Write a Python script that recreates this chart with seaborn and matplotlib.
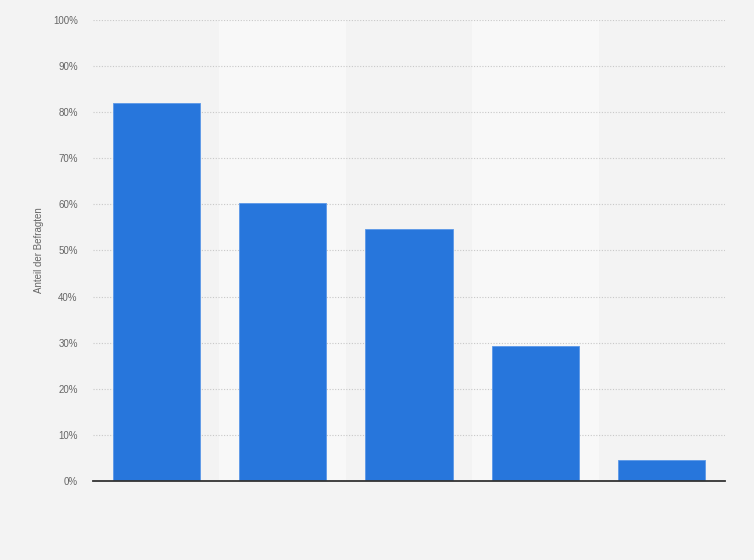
import matplotlib
matplotlib.use("Agg")
import matplotlib.pyplot as plt
import seaborn as sns
import pandas as pd
from matplotlib.ticker import MultipleLocator, FuncFormatter

categories = ["Kategorie 1", "Kategorie 2", "Kategorie 3", "Kategorie 4", "Kategorie 5"]
values = [82.0, 60.3, 54.7, 29.3, 4.6]
y_label = "Anteil der Befragten"

df = pd.DataFrame({"cat": categories, "val": values})

sns.set_theme(style="white")
plt.rcParams['font.family'] = ['Liberation Sans', 'DejaVu Sans']

fig = plt.figure(figsize=(7.54, 5.60), dpi=100)
fig.patch.set_facecolor("#f3f3f3")
ax = fig.add_axes([93/754, 79/560, 632/754, 461/560])
ax.set_facecolor("#f3f3f3")

sns.barplot(data=df, x="cat", y="val", color="#2776dc", saturation=1,
            width=0.69, ax=ax, edgecolor="#5b98e8", linewidth=0.6, zorder=3)

for i in range(len(categories)):
    if i % 2 == 1:
        ax.axvspan(i - 0.5, i + 0.5, color="#f8f8f8", zorder=0, lw=0)

ax.set_xlim(-0.5, len(categories) - 0.5)
ax.set_ylim(0, 100)
ax.yaxis.set_major_locator(MultipleLocator(10))
ax.yaxis.set_major_formatter(FuncFormatter(lambda v, p: f"{int(v)}%"))
ax.grid(axis="y", color="#c8c8c8", linestyle=(0, (1, 1.5)), linewidth=0.8, zorder=1)
ax.set_axisbelow(True)
for s in ["top", "right", "left"]:
    ax.spines[s].set_visible(False)
ax.spines["bottom"].set_color("#333333")
ax.spines["bottom"].set_linewidth(1.3)
ax.spines["bottom"].set_zorder(4)
ax.tick_params(axis="y", length=0, labelsize=7, labelcolor="#666666", pad=11)
ax.tick_params(axis="x", length=0, labelbottom=False)
ax.set_xlabel("")
ax.set_ylabel(y_label, fontsize=7, color="#666666", labelpad=11)
ax.yaxis.set_label_coords(-85/632 + 0.0, 0.5)
ax.yaxis.label.set_position((0, 0.5))
ax.yaxis.set_label_coords(-(93 - 44) / 632, 0.5)

fig.savefig("out.png", dpi=100, facecolor=fig.get_facecolor())
